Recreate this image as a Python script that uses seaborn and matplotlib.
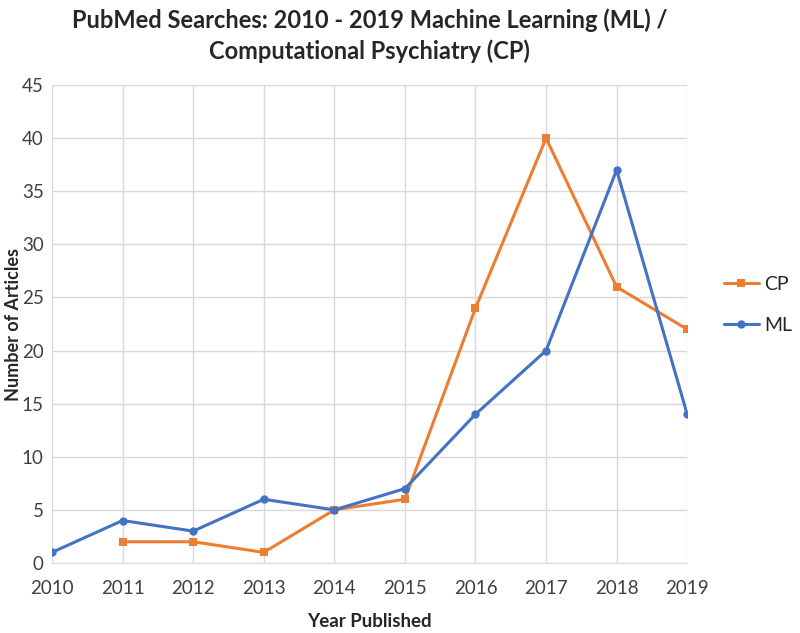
import numpy as np
import pandas as pd
import matplotlib
matplotlib.use('Agg')
import matplotlib.pyplot as plt
import seaborn as sns

years = [2010, 2011, 2012, 2013, 2014, 2015, 2016, 2017, 2018, 2019]
ml_counts = [1, 4, 3, 6, 5, 7, 14, 20, 37, 14]
cp_counts = [np.nan, 2, 2, 1, 5, 6, 24, 40, 26, 22]

df = pd.DataFrame({'Year': years, 'ML': ml_counts, 'CP': cp_counts})

sns.set_style('white')
plt.rcParams['font.family'] = ['Lato', 'DejaVu Sans']

fig = plt.figure(figsize=(8, 6.33), dpi=100)
ax = fig.add_axes([0.065, 0.1106, 0.794, 0.755])

cp = df.dropna(subset=['CP'])
sns.lineplot(x=cp['Year'], y=cp['CP'], ax=ax, color='#ED7D31', marker='s',
             markersize=6, markeredgewidth=0, linewidth=2.2, label='CP')
sns.lineplot(x=df['Year'], y=df['ML'], ax=ax, color='#4472C4', marker='o',
             markersize=6, markeredgewidth=0, linewidth=2.2, label='ML')

ax.set_xlim(2010, 2019)
ax.set_ylim(0, 45)
ax.set_xticks(years)
ax.set_yticks(range(0, 46, 5))
ax.tick_params(axis='both', labelsize=13.5, colors='#404040', length=0)
ax.tick_params(axis='x', pad=12)
ax.tick_params(axis='y', pad=6)
ax.grid(True, color='#D9D9D9', linewidth=1)
ax.set_axisbelow(True)
for s in ['top', 'right', 'left']:
    ax.spines[s].set_visible(False)
ax.spines['bottom'].set_color('#D9D9D9')

ax.set_xlabel('Year Published', fontsize=13.5, fontweight='bold', labelpad=12)
ax.set_ylabel('Number of Articles', fontsize=13, fontweight='bold')
ax.yaxis.set_label_coords(-0.048, 0.5)
ax.set_title('PubMed Searches: 2010 - 2019 Machine Learning (ML) /\nComputational Psychiatry (CP)',
             fontsize=17, fontweight='bold', pad=19, linespacing=1.35)

ax.legend(loc='center left', bbox_to_anchor=(1.03, 0.54), frameon=False,
          fontsize=14, handlelength=1.8, labelspacing=1.2, handletextpad=0.3)

fig.savefig('out.png', dpi=100)
